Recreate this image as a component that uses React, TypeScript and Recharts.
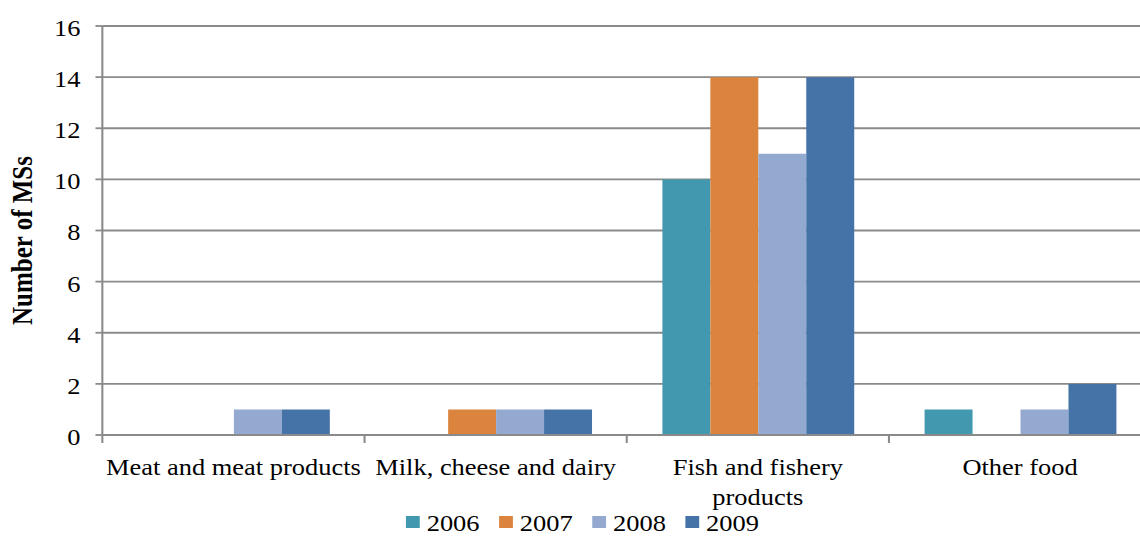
import React from 'react';
import { BarChart, Bar, XAxis, YAxis, CartesianGrid, Legend, Label } from 'recharts';

// Food categories and number of member states reporting per year
const CATEGORIES = [
  'Meat and meat products',
  'Milk, cheese and dairy',
  'Fish and fishery products',
  'Other food',
];
// Category tick labels, split into the lines they are drawn on
const CATEGORY_LINES = [
  ['Meat and meat products'],
  ['Milk, cheese and dairy'],
  ['Fish and fishery', 'products'],
  ['Other food'],
];
const Y2006 = [0, 0, 10, 1];
const Y2007 = [0, 1, 14, 0];
const Y2008 = [1, 1, 11, 1];
const Y2009 = [1, 1, 14, 2];
const Y_TICKS = [0, 2, 4, 6, 8, 10, 12, 14, 16];

const SERIES = [
  { key: '2006', color: '#4198AF' },
  { key: '2007', color: '#DB843D' },
  { key: '2008', color: '#93A9CF' },
  { key: '2009', color: '#4572A7' },
];

const data = CATEGORIES.map((name, i) => ({
  name,
  '2006': Y2006[i],
  '2007': Y2007[i],
  '2008': Y2008[i],
  '2009': Y2009[i],
}));

const FONT = "'Liberation Serif', 'Times New Roman', Times, serif";
const STRETCH = 1.15; // wide, horizontally stretched rendering
const CHART_W = 1010;
const CHART_H = 536;
const MARGIN = { top: 26, right: 9, bottom: 0, left: 0 };
const Y_AXIS_W = 89;
const X_AXIS_H = 73;
const LEGEND_H = 28;
const GRID = '#8a8a8a';
const LINE_W = 1.8;
const BAND = (CHART_W - MARGIN.left - MARGIN.right - Y_AXIS_W) / CATEGORIES.length;

function CategoryTick(props: any) {
  const { x, y, index } = props;
  const left = x - BAND / 2;
  const lines = CATEGORY_LINES[index] || [String(props.payload?.value ?? '')];
  return (
    <g>
      <line x1={left} x2={left} y1={y - 8} y2={y} stroke={GRID} strokeWidth={LINE_W} />
      {index === CATEGORIES.length - 1 && (
        <line x1={left + BAND} x2={left + BAND} y1={y - 8} y2={y} stroke={GRID} strokeWidth={LINE_W} />
      )}
      <text x={x} y={y + 32} textAnchor="middle" fontSize={23} fontFamily={FONT} fill="#000">
        {lines.map((ln, i) => (
          <tspan key={i} x={x} dy={i === 0 ? 0 : 30}>
            {ln}
          </tspan>
        ))}
      </text>
    </g>
  );
}

function ValueTick(props: any) {
  const { x, y, payload } = props;
  return (
    <text x={x} y={y} dy={10} textAnchor="end" fontSize={23} fontFamily={FONT} fill="#000">
      {payload.value}
    </text>
  );
}

function AxisTitle(props: any) {
  const vb = props.viewBox || { x: 0, y: 0, width: 0, height: 0 };
  const cx = vb.x + 28;
  const cy = vb.y + vb.height / 2 + 10;
  return (
    <text
      x={cx}
      y={cy}
      transform={`rotate(-90 ${cx} ${cy})`}
      textAnchor="middle"
      fontSize={25}
      fontWeight="bold"
      fontFamily={FONT}
      fill="#000"
    >
      Number of MSs
    </text>
  );
}

function LegendRow() {
  return (
    <div
      style={{
        height: LEGEND_H,
        display: 'flex',
        justifyContent: 'center',
        alignItems: 'center',
        fontFamily: FONT,
      }}
    >
      {SERIES.map((s, i) => (
        <span
          key={s.key}
          style={{
            display: 'inline-flex',
            alignItems: 'center',
            marginRight: i === SERIES.length - 1 ? 0 : 17,
          }}
        >
          <span style={{ width: 12, height: 12, background: s.color, marginRight: 6, display: 'inline-block' }} />
          <span style={{ fontSize: 23, lineHeight: '28px', position: 'relative', top: 2, color: '#000' }}>{s.key}</span>
        </span>
      ))}
    </div>
  );
}

export default function App() {
  return (
    <div
      style={{
        position: 'absolute',
        left: 0,
        top: 0,
        width: 1140,
        height: 536,
        overflow: 'hidden',
        background: '#fff',
      }}
    >
      <div style={{ width: CHART_W, height: CHART_H, transform: `scaleX(${STRETCH})`, transformOrigin: '0 0' }}>
        <BarChart
          width={CHART_W}
          height={CHART_H}
          data={data}
          margin={MARGIN}
          barGap={0}
          barSize={41.7}
        >
          <CartesianGrid vertical={false} stroke={GRID} strokeWidth={LINE_W} />
          <XAxis
            dataKey="name"
            height={X_AXIS_H}
            interval={0}
            tickLine={false}
            tickSize={8}
            tickMargin={0}
            axisLine={{ stroke: GRID, strokeWidth: LINE_W }}
            tick={<CategoryTick />}
          />
          <YAxis
            width={Y_AXIS_W}
            domain={[0, 16]}
            ticks={Y_TICKS}
            interval={0}
            tickSize={6}
            tickMargin={13}
            tickLine={{ stroke: GRID, strokeWidth: LINE_W }}
            axisLine={{ stroke: GRID, strokeWidth: LINE_W }}
            tick={<ValueTick />}
          >
            <Label content={AxisTitle} />
          </YAxis>
          <Legend
            verticalAlign="bottom"
            align="center"
            height={LEGEND_H}
            wrapperStyle={{ left: 0, width: 1013, height: LEGEND_H }}
            content={() => <LegendRow />}
          />
          {SERIES.map((s) => (
            <Bar key={s.key} dataKey={s.key} fill={s.color} isAnimationActive={false} />
          ))}
        </BarChart>
      </div>
    </div>
  );
}
